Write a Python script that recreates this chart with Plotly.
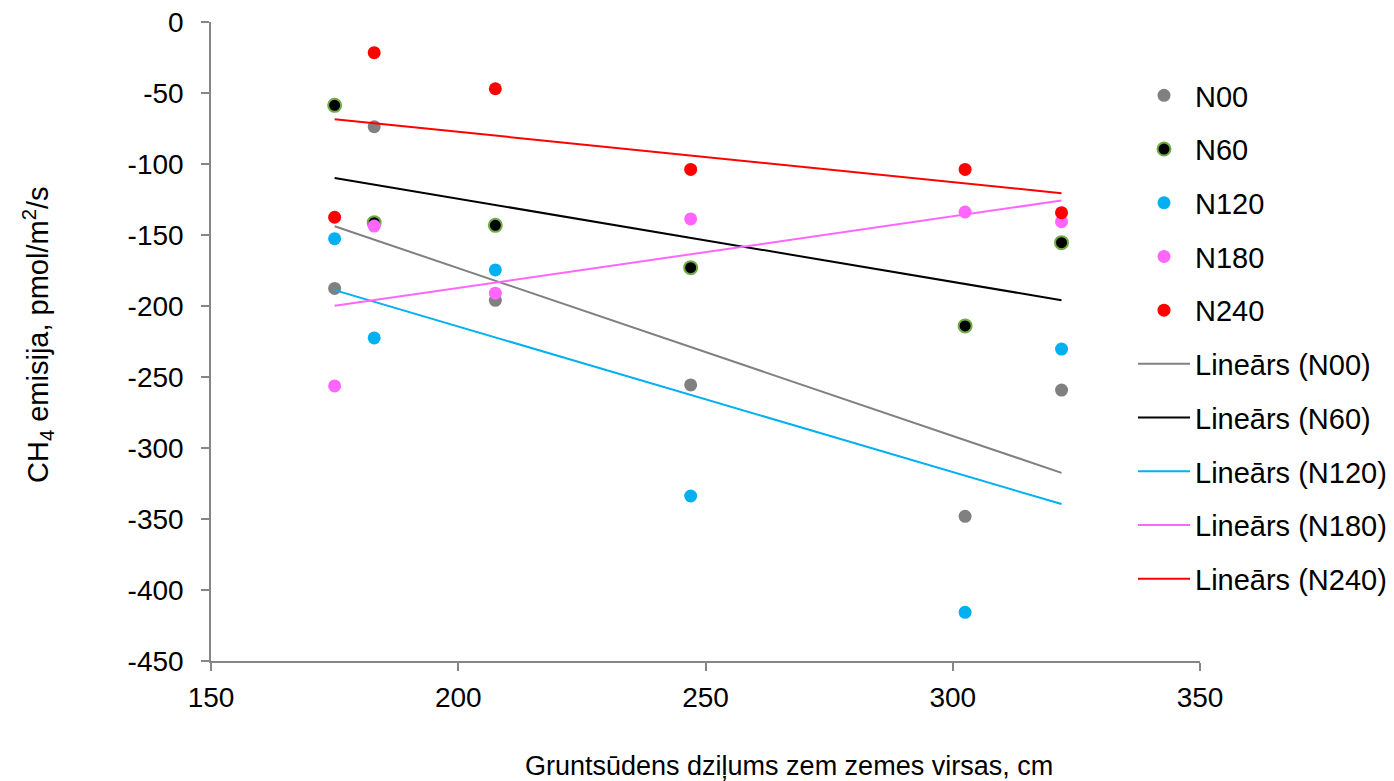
import numpy as np
import plotly.graph_objects as go

# Data
depth = [175, 183, 207.5, 247, 302.5, 322]
n00 = [-187.6, -73.7, -196.0, -255.6, -348.1, -259.2]
n60 = [-58.7, -141.3, -143.2, -173.0, -214.0, -155.4]
n120 = [-152.6, -222.5, -174.6, -333.8, -415.7, -230.3]
n180 = [-256.3, -143.7, -191.0, -138.7, -133.8, -140.6]
n240 = [-137.5, -21.6, -47.0, -103.8, -103.8, -134.3]

series_names = ["N00", "N60", "N120", "N180", "N240"]
series_values = [n00, n60, n120, n180, n240]
colors = ["#808080", "#000000", "#00B0F0", "#FF66FF", "#FF0000"]
edge_colors = ["#808080", "#70AD47", "#00B0F0", "#FF66FF", "#FF0000"]
line_colors = ["#808080", "#000000", "#00B0F0", "#FF66FF", "#FF0000"]

y_tickvals = [0, -50, -100, -150, -200, -250, -300, -350, -400, -450]
y_ticktext = ["0", "-50", "-100", "-150", "-200", "-250", "-300", "-350", "-400", "-450"]
x_tickvals = [150, 200, 250, 300, 350]
x_ticktext = ["150", "200", "250", "300", "350"]

FONT = "Liberation Sans, Arial, sans-serif"

fig = go.Figure()

for i, (name, vals) in enumerate(zip(series_names, series_values)):
    fig.add_trace(go.Scatter(
        x=depth, y=vals, mode="markers", name=name,
        legendgroup=f"g{i}",
        marker=dict(size=13, color=colors[i],
                    line=dict(color=edge_colors[i], width=2 if i == 1 else 0)),
    ))

xs = np.array(depth, dtype=float)
x_line = np.array([xs.min(), xs.max()])
for i, (name, vals) in enumerate(zip(series_names, series_values)):
    slope, intercept = np.polyfit(xs, np.array(vals, dtype=float), 1)
    fig.add_trace(go.Scatter(
        x=x_line, y=slope * x_line + intercept, mode="lines",
        name=f"Lineārs ({name})", legendgroup=f"h{i}",
        line=dict(color=line_colors[i], width=2),
    ))

axis_common = dict(
    showgrid=False, zeroline=False, showline=True, linecolor="#868686", linewidth=1.5,
    ticks="outside", ticklen=8, tickcolor="#868686", tickwidth=1.5,
    tickfont=dict(family=FONT, size=28, color="#000000"),
)

L, R, T, B = 211, 1200, 22, 661
W, H = R - L, B - T

fig.update_layout(
    width=1394, height=781,
    paper_bgcolor="white", plot_bgcolor="white",
    margin=dict(l=L, r=1394 - R, t=T, b=781 - B, autoexpand=False),
    font=dict(family=FONT, size=28, color="#000000"),
    xaxis=dict(range=[150, 350], tickmode="array", tickvals=x_tickvals, ticktext=x_ticktext,
               ticklabelstandoff=3, **axis_common),
    yaxis=dict(range=[-450, 0], tickmode="array", tickvals=y_tickvals, ticktext=y_ticktext,
               ticklabelstandoff=12, **axis_common),
    legend=dict(
        xref="paper", yref="paper", x=(1133 - L) / W, y=1 - (70 - T) / H,
        xanchor="left", yanchor="top",
        font=dict(family=FONT, size=29, color="#000000"),
        tracegroupgap=13, itemwidth=52, bgcolor="rgba(0,0,0,0)",
    ),
    showlegend=True,
    annotations=[
        dict(text="Gruntsūdens dziļums zem zemes virsas, cm", xref="paper", yref="paper",
             x=(789 - L) / W, y=-(766 - B) / H, xanchor="center", yanchor="middle",
             showarrow=False, font=dict(family=FONT, size=27, color="#000000")),
        dict(text="CH<sub>4</sub> emisija, pmol/m<sup>2</sup>/s", xref="paper", yref="paper",
             x=(38 - L) / W, y=1 - (335 - T) / H, xanchor="center", yanchor="middle",
             textangle=-90, showarrow=False,
             font=dict(family=FONT, size=29, color="#000000")),
    ],
)

fig.write_html("out.html")
